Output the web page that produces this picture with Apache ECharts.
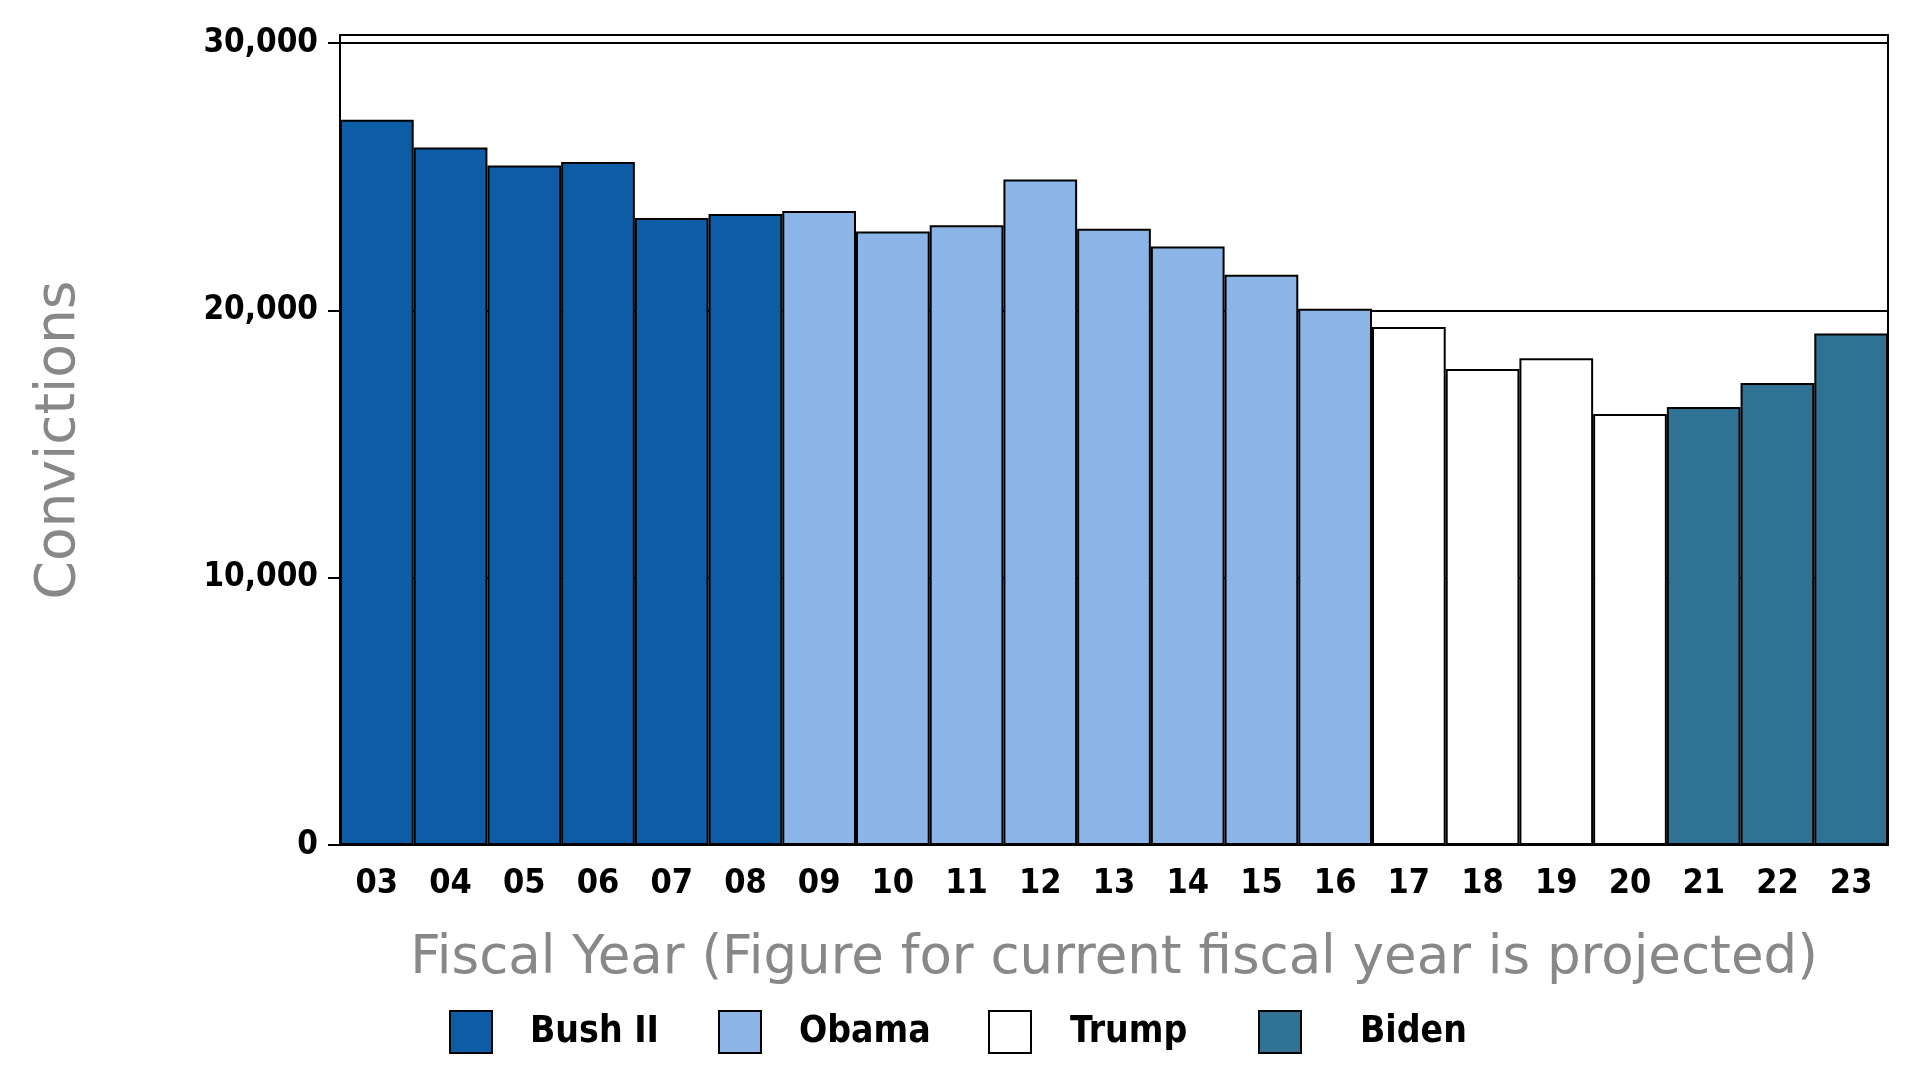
<!DOCTYPE html>
<html>
<head>
<meta charset="utf-8">
<script src="https://cdn.jsdelivr.net/npm/echarts@6/dist/echarts.min.js"></script>
<style>
html,body{margin:0;padding:0;background:#fff;}
#chart{width:1930px;height:1066px;}
</style>
</head>
<body>
<div id="chart"></div>
<script>
const years = ['03','04','05','06','07','08','09','10','11','12','13','14','15','16','17','18','19','20','21','22','23'];
const bushII = [27130, 26090, 25420, 25550, 23450, 23600, '-', '-', '-', '-', '-', '-', '-', '-', '-', '-', '-', '-', '-', '-', '-'];
const obama  = ['-', '-', '-', '-', '-', '-', 23720, 22950, 23180, 24890, 23050, 22390, 21330, 20060, '-', '-', '-', '-', '-', '-', '-'];
const trump  = ['-', '-', '-', '-', '-', '-', '-', '-', '-', '-', '-', '-', '-', '-', 19380, 17810, 18210, 16120, '-', '-', '-'];
const biden  = ['-', '-', '-', '-', '-', '-', '-', '-', '-', '-', '-', '-', '-', '-', '-', '-', '-', '-', 16380, 17280, 19130];
const yTicks = [0, 10000, 20000, 30000];
const legendNames = ['Bush II', 'Obama', 'Trump', 'Biden'];

const chart = echarts.init(document.getElementById('chart'));
const border = {borderColor: '#000', borderWidth: 2};
function mk(name, data, color) {
  return {
    name: name, type: 'bar', stack: 'all', data: data,
    barCategoryGap: 0, barGap: 0,
    itemStyle: Object.assign({color: color}, border),
    emphasis: {disabled: true}
  };
}
const legendLeft = [444, 713, 983, 1253];
const legendPad = [33, 33, 34, 54];
const legends = legendNames.map((n, i) => ({
  left: legendLeft[i], top: 1005,
  itemWidth: 42, itemHeight: 42, icon: 'rect',
  textStyle: {fontFamily: 'DejaVu Sans Condensed', fontWeight: 'bold', fontSize: 37, color: '#000', padding: [0, 0, 0, legendPad[i]]},
  data: [n]
}));
const labelFont = {fontFamily: 'DejaVu Sans Condensed', fontWeight: 'bold', color: '#000'};
chart.setOption({
  backgroundColor: '#fff',
  animation: false,
  grid: {left: 340, right: 42, top: 35, bottom: 221},
  legend: legends,
  xAxis: [{
    type: 'category', data: years,
    axisLine: {lineStyle: {color: '#000', width: 2}},
    axisTick: {show: false},
    axisLabel: Object.assign({fontSize: 34, margin: 22}, labelFont),
    name: 'Fiscal Year (Figure for current fiscal year is projected)',
    nameLocation: 'middle', nameGap: 88,
    nameTextStyle: {fontFamily: 'DejaVu Sans', fontSize: 53, color: '#888'}
  }, {
    type: 'category', data: years, position: 'top',
    axisLine: {show: true, onZero: false, lineStyle: {color: '#000', width: 2}},
    axisTick: {show: false}, axisLabel: {show: false}
  }],
  yAxis: [{
    type: 'value', min: 0, max: 30300, interval: 10000,
    axisLine: {show: true, onZero: false, lineStyle: {color: '#000', width: 2}},
    axisTick: {show: true, length: 12, customValues: yTicks, lineStyle: {color: '#000', width: 2}},
    axisLabel: Object.assign({customValues: yTicks, fontSize: 33, margin: 22,
      formatter: v => v.toLocaleString('en-US')}, labelFont),
    splitLine: {show: true, lineStyle: {color: '#000', width: 2}},
    name: 'Convictions', nameLocation: 'middle', nameGap: 253,
    nameTextStyle: {fontFamily: 'DejaVu Sans', fontSize: 55, color: '#888'}
  }, {
    type: 'value', position: 'right', min: 0, max: 30300,
    axisLine: {show: true, onZero: false, lineStyle: {color: '#000', width: 2}},
    axisTick: {show: false}, axisLabel: {show: false}, splitLine: {show: false}
  }],
  series: [
    mk('Bush II', bushII, '#0d5ca6'),
    mk('Obama', obama, '#8bb5e6'),
    mk('Trump', trump, '#ffffff'),
    mk('Biden', biden, '#2f7293')
  ]
});
</script>
</body>
</html>
